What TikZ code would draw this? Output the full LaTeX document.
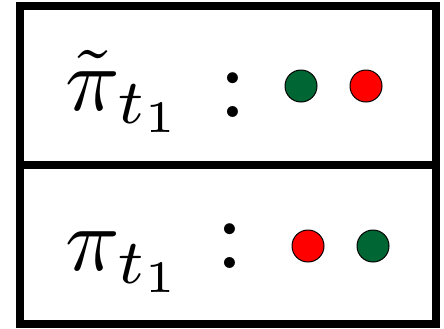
\documentclass[tikz,border=0pt]{standalone}
\usepackage{amsmath,amssymb}
\usepackage{xcolor}
\usepackage{tikz}
\usetikzlibrary{positioning}

\definecolor{dotgreen}{RGB}{0,102,51}
\definecolor{dotred}{RGB}{255,0,0}

\begin{document}
\begin{tikzpicture}[x=0.5pt, y=-0.5pt,
    frame/.style={draw=black, line width=4pt},
    policy/.style={inner sep=0pt, anchor=base west, scale=4.5},
    sep/.style={inner sep=0pt, anchor=base, scale=5.2},
    ball/.style={circle, draw=black, line width=0.5pt, minimum size=16pt, inner sep=0pt}]

    \useasboundingbox (0,0) rectangle (444,328);

    % Frame
    \draw [frame] (20,6) rectangle (436,324);
    \draw [frame] (20,165) -- (436,165);

    % Top row
    \node [policy] at (64,110) (tlabel) {$\tilde{\pi}_{t_1}$};
    \node [sep] at (233,117) (tcolon) {$:$};
    \node [ball, fill=dotgreen] at (301,86) (tg) {};
    \node [ball, fill=dotred, right=16pt of tg] (tr) {};

    % Bottom row
    \node [policy] at (64,270) (blabel) {$\pi_{t_1}$};
    \node [sep] at (230,268) (bcolon) {$:$};
    \node [ball, fill=dotred] at (308,246) (br) {};
    \node [ball, fill=dotgreen, right=16pt of br] (bg) {};

\end{tikzpicture}
\end{document}
